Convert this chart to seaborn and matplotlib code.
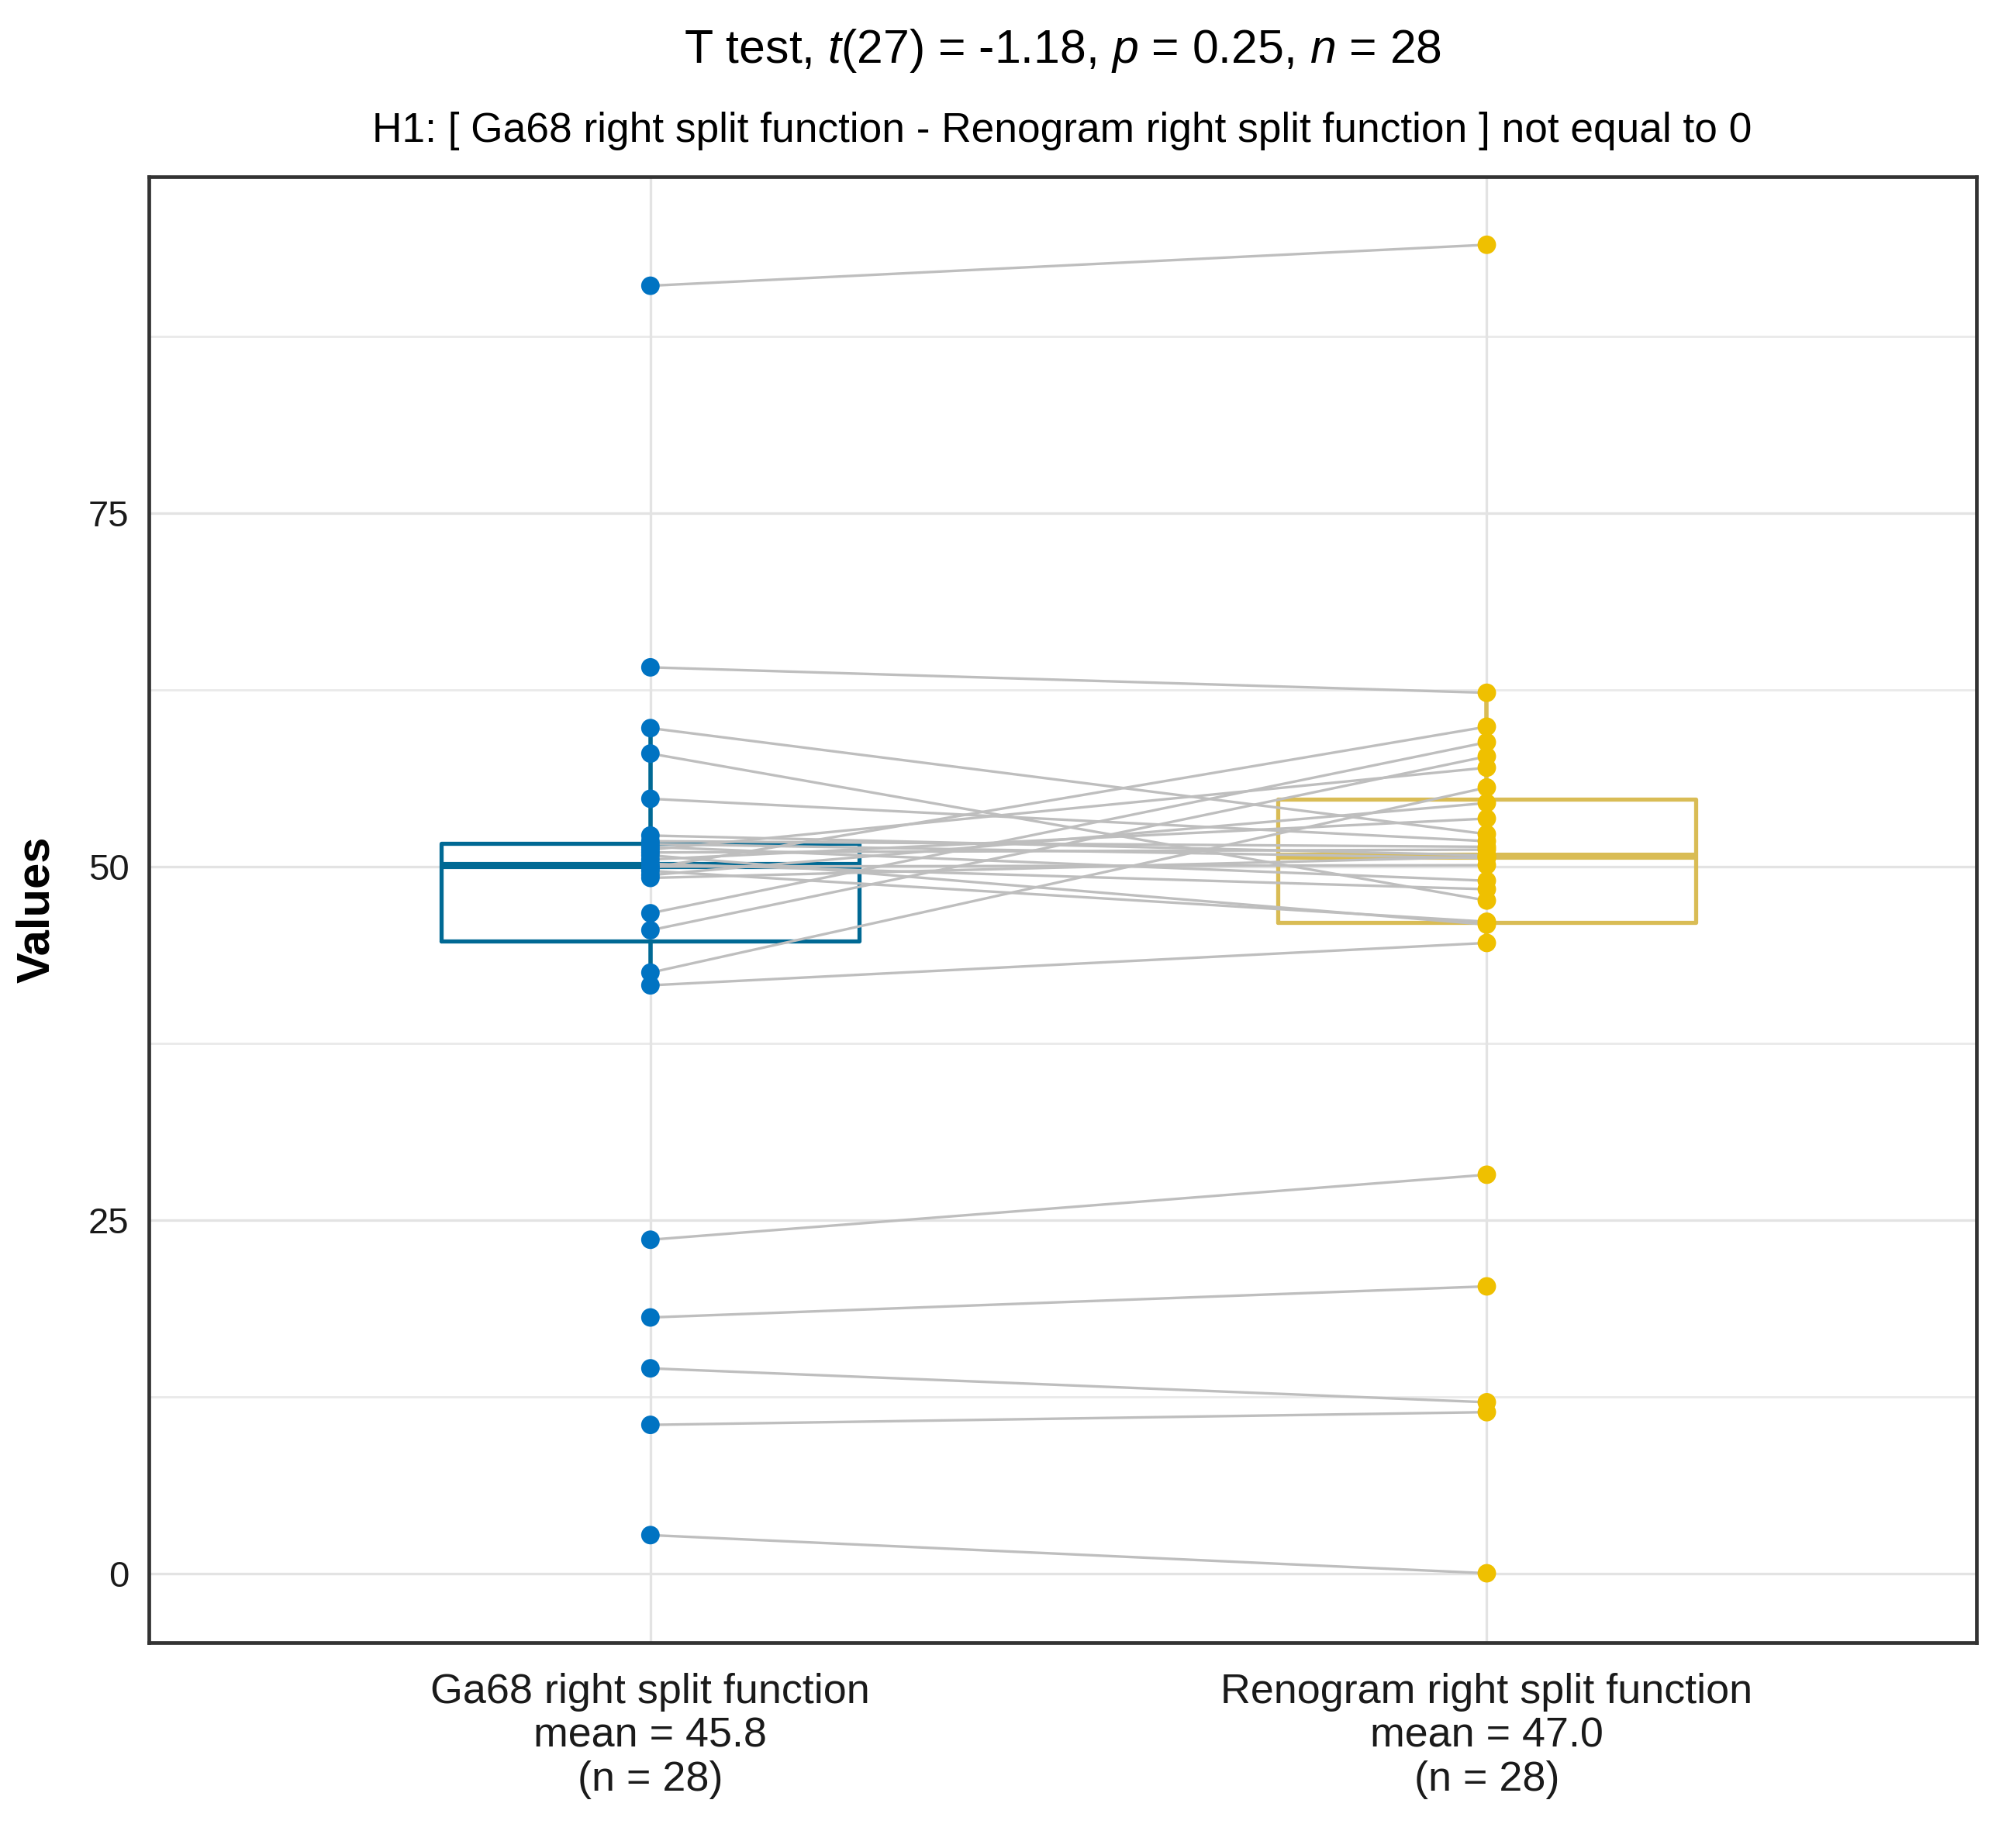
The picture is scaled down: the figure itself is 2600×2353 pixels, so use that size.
import numpy as np
import pandas as pd
import seaborn as sns
import matplotlib.pyplot as plt

# paired observations (same order in both lists)
ga68 = [91.1, 64.1, 59.8, 58.0, 54.8, 46.7, 45.5, 42.5, 41.6, 23.6, 18.1, 14.5, 10.5, 2.7,
        49.2, 49.4, 49.7, 49.9, 50.0, 50.2, 50.5, 50.8, 51.0, 51.2, 51.4, 51.6, 51.8, 52.2]
renogram = [94.0, 62.3, 52.3, 47.6, 51.8, 58.8, 57.8, 55.6, 44.6, 28.2, 20.3, 12.1, 11.4, 0.0,
            50.7, 54.5, 46.1, 59.9, 50.1, 48.4, 53.4, 45.9, 51.2, 57.0, 49.0, 50.6, 51.4, 50.8]

groups = ["Ga68 right split function", "Renogram right split function"]
tick_labels = ["Ga68 right split function\nmean = 45.8\n(n = 28)",
               "Renogram right split function\nmean = 47.0\n(n = 28)"]
point_colors = ["#0073C2", "#EFC000"]
box_colors = ["#006994", "#D9BC55"]

title = r"T test, $\mathit{t}$(27) = -1.18, $\mathit{p}$ = 0.25, $\mathit{n}$ = 28"
subtitle = "H1: [ Ga68 right split function - Renogram right split function ] not equal to 0"

n = len(ga68)
df = pd.DataFrame({
    "id": list(range(n)) * 2,
    "group": [groups[0]] * n + [groups[1]] * n,
    "value": ga68 + renogram,
})

sns.set_theme(style="white")
plt.rcParams["font.family"] = ["Liberation Sans", "DejaVu Sans"]
plt.rcParams["mathtext.fontset"] = "custom"
plt.rcParams["mathtext.rm"] = "Liberation Sans"
plt.rcParams["mathtext.it"] = "Liberation Sans:italic"
plt.rcParams["text.color"] = "black"
plt.rcParams["axes.labelcolor"] = "black"
plt.rcParams["xtick.color"] = "#1A1A1A"
plt.rcParams["ytick.color"] = "#1A1A1A"

fig = plt.figure(figsize=(13, 11.765), dpi=200)
ax = fig.add_axes([0.0737, 0.0995, 0.9065, 0.8035])

# grid (major + minor like ggplot)
for yv in [0, 25, 50, 75]:
    ax.axhline(yv, color="#E3E3E3", lw=1.2, zorder=0)
for yv in [12.5, 37.5, 62.5, 87.5]:
    ax.axhline(yv, color="#E9E9E9", lw=1.0, zorder=0)
for xv in [0, 1]:
    ax.axvline(xv, color="#E3E3E3", lw=1.2, zorder=0)

sns.boxplot(data=df, x="group", y="value", hue="group", palette=box_colors,
            fill=False, width=0.5, showfliers=False, showcaps=False, legend=False,
            linewidth=1.9, medianprops={"linewidth": 3.3},
            whiskerprops={"linewidth": 2.0}, ax=ax, zorder=2)

sns.lineplot(data=df, x="group", y="value", units="id", estimator=None,
             color="#BEBEBE", lw=1.2, ax=ax, zorder=3, legend=False)

sns.stripplot(data=df, x="group", y="value", hue="group", palette=point_colors,
              jitter=False, size=8.6, linewidth=0, legend=False, ax=ax, zorder=4)

ax.set_xlim(-0.6, 1.585)
ax.set_ylim(-4.9, 98.8)
ax.set_yticks([0, 25, 50, 75])
ax.set_xticks([0, 1])
ax.set_xticklabels(tick_labels, fontsize=19.4, linespacing=1.17)
ax.tick_params(axis="y", labelsize=17, length=5, width=1.1, color="#333333", pad=4)
ax.tick_params(axis="x", length=5, width=1.1, color="#333333", pad=9)
ax.set_xlabel("")
ax.set_ylabel("Values", fontsize=21.5, fontweight="bold", labelpad=14)

for sp in ax.spines.values():
    sp.set_color("#333333")
    sp.set_linewidth(1.7)

# titles centred over the panel, as in the original
cx = 0.0737 + 0.9065 / 2
fig.text(cx, 0.972, title, ha="center", va="center", fontsize=21.9)
fig.text(cx, 0.928, subtitle, ha="center", va="center", fontsize=19.2)

fig.savefig("out.png", dpi=200)
